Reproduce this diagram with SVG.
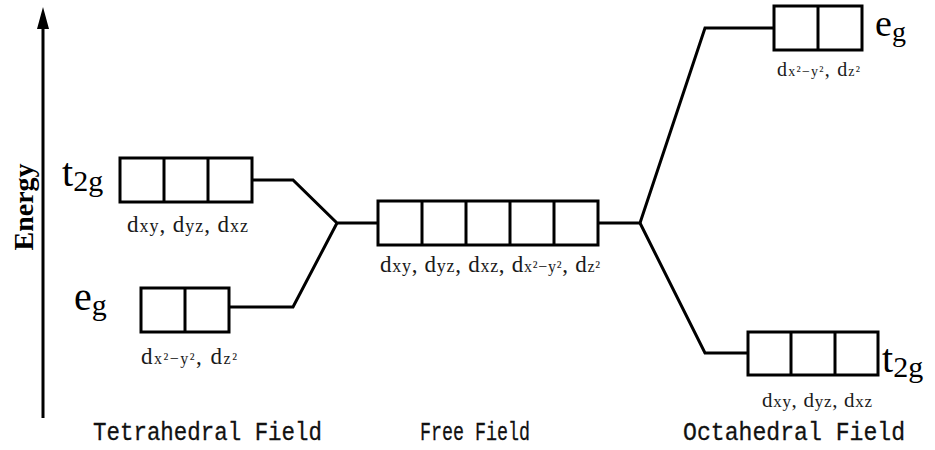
<svg xmlns="http://www.w3.org/2000/svg" width="935" height="450" viewBox="0 0 935 450">
<style>
.box{fill:#fff;stroke:#000;stroke-width:3}
.div{stroke:#000;stroke-width:3}
.con{fill:none;stroke:#000;stroke-width:3;stroke-linejoin:miter}
.lab{font-family:"Liberation Serif",serif;fill:#1a1a1a}
.big{font-family:"Liberation Serif",serif;fill:#000}
.field{font-family:"Liberation Mono",monospace;font-size:26px;fill:#111;stroke:#111;stroke-width:0.3}
</style>
<rect width="935" height="450" fill="#fff"/>
<g id="axis">
<line x1="43" y1="418" x2="43" y2="26" stroke="#000" stroke-width="3"/>
<polygon points="43,7 37,29 49,29" fill="#000"/>
<text class="big" transform="translate(33,207) rotate(-90)" text-anchor="middle" font-size="28" font-weight="bold">Energy</text>
</g>
<g id="connectors">
<polyline class="con" points="252,180 293,180 337,223 378,223"/>
<polyline class="con" points="229,307 293,307 337,223"/>
<polyline class="con" points="598,223 640,223 705,28 774,28"/>
<polyline class="con" points="640,223 705,353 748,353"/>
</g>
<g id="tet-t2g">
<rect class="box" x="120" y="158" width="132" height="44"/>
<line class="div" x1="164" y1="158" x2="164" y2="202"/>
<line class="div" x1="208" y1="158" x2="208" y2="202"/>
<text class="big" x="62" y="186" font-size="40">t<tspan font-size="30" dy="5">2g</tspan></text>
<text class="lab" x="127" y="232" textLength="121" lengthAdjust="spacing" font-size="23">d<tspan font-size="18">xy</tspan>, d<tspan font-size="18">yz</tspan>, d<tspan font-size="18">xz</tspan></text>
</g>
<g id="tet-eg">
<rect class="box" x="141" y="288" width="88" height="44"/>
<line class="div" x1="185" y1="288" x2="185" y2="332"/>
<text class="big" x="74" y="310" font-size="40">e<tspan font-size="30" dy="5">g</tspan></text>
<text class="lab" x="141" y="364" textLength="96" lengthAdjust="spacing" font-size="23">d<tspan font-size="16">x²−y²</tspan>, d<tspan font-size="16">z²</tspan></text>
</g>
<g id="free">
<rect class="box" x="378" y="201" width="220" height="44"/>
<line class="div" x1="422" y1="201" x2="422" y2="245"/>
<line class="div" x1="466" y1="201" x2="466" y2="245"/>
<line class="div" x1="510" y1="201" x2="510" y2="245"/>
<line class="div" x1="554" y1="201" x2="554" y2="245"/>
<text class="lab" x="380" y="272" textLength="220" lengthAdjust="spacing" font-size="23">d<tspan font-size="18">xy</tspan>, d<tspan font-size="18">yz</tspan>, d<tspan font-size="18">xz</tspan>, d<tspan font-size="16">x²−y²</tspan>, d<tspan font-size="16">z²</tspan></text>
</g>
<g id="oct-eg">
<rect class="box" x="774" y="6" width="88" height="44"/>
<line class="div" x1="818" y1="6" x2="818" y2="50"/>
<text class="big" x="875" y="36" font-size="38">e<tspan font-size="28" dy="5">g</tspan></text>
<text class="lab" x="777" y="76" textLength="83" lengthAdjust="spacing" font-size="20">d<tspan font-size="14">x²−y²</tspan>, d<tspan font-size="14">z²</tspan></text>
</g>
<g id="oct-t2g">
<rect class="box" x="748" y="332" width="130" height="43"/>
<line class="div" x1="791" y1="332" x2="791" y2="375"/>
<line class="div" x1="835" y1="332" x2="835" y2="375"/>
<text class="big" x="882" y="372" font-size="40">t<tspan font-size="30" dy="5">2g</tspan></text>
<text class="lab" x="762" y="407" textLength="110" lengthAdjust="spacing" font-size="21">d<tspan font-size="17">xy</tspan>, d<tspan font-size="17">yz</tspan>, d<tspan font-size="17">xz</tspan></text>
</g>
<g id="labels">
<text class="field" x="93" y="440" textLength="229" lengthAdjust="spacingAndGlyphs">Tetrahedral Field</text>
<text class="field" x="420" y="440" textLength="110" lengthAdjust="spacingAndGlyphs">Free Field</text>
<text class="field" x="683" y="440" textLength="222" lengthAdjust="spacingAndGlyphs">Octahedral Field</text>
</g>
</svg>
